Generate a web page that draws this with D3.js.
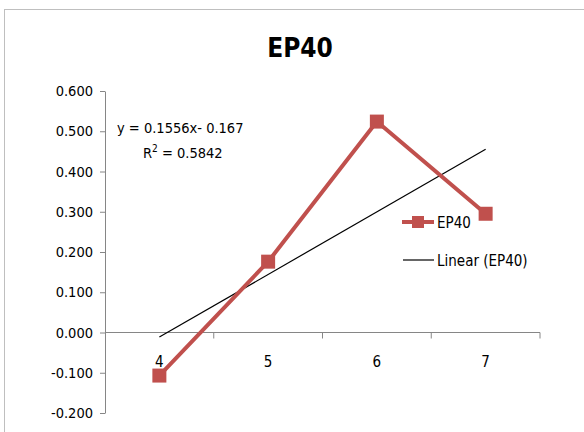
<!DOCTYPE html>
<html>
<head>
<meta charset="utf-8">
<script src="https://cdn.jsdelivr.net/npm/d3@7"></script>
<style>
  html, body { margin: 0; padding: 0; background: #fff; }
  svg { display: block; }
  text { font-family: "DejaVu Sans Condensed", "Liberation Sans", sans-serif; fill: #000; }
</style>
</head>
<body>
<svg id="chart" width="584" height="432"></svg>
<script>
// EP40 readings per category, with the fitted linear trend
const categories = ["4", "5", "6", "7"];
const ep40Values = [-0.107, 0.176, 0.524, 0.295];
const yTickValues = [-0.2, -0.1, 0, 0.1, 0.2, 0.3, 0.4, 0.5, 0.6];
const trendSlope = 0.1556;
const trendIntercept = -0.167;
const trendLabel = "y = 0.1556x- 0.167";
const r2Label = "0.5842";
const seriesName = "EP40";
const trendName = "Linear (EP40)";

const W = 584, H = 432;
const margin = { left: 105, right: 44, top: 91, bottom: 19 };
const red = "#C0504D";
const axisGrey = "#868686";

const svg = d3.select("#chart");

// outer chart frame
svg.append("rect")
  .attr("x", 4.5).attr("y", 9.5)
  .attr("width", 600).attr("height", 460)
  .attr("fill", "none").attr("stroke", "#bfbfbf").attr("stroke-width", 1);

const x = d3.scaleBand().domain(categories).range([margin.left, W - margin.right]);
const y = d3.scaleLinear().domain([-0.2, 0.6]).range([H - margin.bottom, margin.top]);

// title
svg.append("text")
  .attr("x", 300).attr("y", 57)
  .attr("text-anchor", "middle")
  .style("font-size", "26px").style("font-weight", "bold")
  .text(seriesName);

// y axis, plain hyphen for negatives
const fmt = d3.formatLocale({ decimal: ".", thousands: ",", grouping: [3], currency: ["", ""], minus: "-" }).format(".3f");
const yAxis = d3.axisLeft(y).tickValues(yTickValues).tickFormat(fmt).tickSize(5).tickSizeOuter(0);
const gy = svg.append("g").attr("transform", `translate(${margin.left},0)`).call(yAxis);
gy.select(".domain").attr("stroke", axisGrey);
gy.selectAll(".tick line").attr("stroke", axisGrey);
gy.selectAll(".tick text").attr("x", -12).style("font-size", "14.5px").style("font-family", "DejaVu Sans Condensed, sans-serif");

// x axis at zero with ticks on category boundaries
const y0 = y(0);
const gx = svg.append("g").attr("transform", `translate(0,${y0})`);
gx.append("line")
  .attr("x1", x.range()[0]).attr("x2", x.range()[1])
  .attr("stroke", axisGrey);
const bounds = categories.map(c => x(c) + x.bandwidth());
gx.selectAll("line.b").data(bounds).join("line")
  .attr("class", "b")
  .attr("x1", d => d).attr("x2", d => d)
  .attr("y1", 0).attr("y2", 6)
  .attr("stroke", axisGrey);
gx.selectAll("text").data(categories).join("text")
  .attr("x", d => x(d) + x.bandwidth() / 2)
  .attr("y", 34)
  .attr("text-anchor", "middle")
  .style("font-size", "15px")
  .text(d => d);

const cx = d => x(d) + x.bandwidth() / 2;

// linear trend across category positions 1..n
const n = categories.length;
svg.append("line")
  .attr("x1", cx(categories[0])).attr("y1", y(trendSlope * 1 + trendIntercept))
  .attr("x2", cx(categories[n - 1])).attr("y2", y(trendSlope * n + trendIntercept))
  .attr("stroke", "#000").attr("stroke-width", 1.2);

// data series
const line = d3.line().x((d, i) => cx(categories[i])).y(d => y(d));
svg.append("path")
  .datum(ep40Values)
  .attr("d", line)
  .attr("fill", "none").attr("stroke", red).attr("stroke-width", 4)
  .attr("stroke-linejoin", "round");
const ms = 14;
svg.selectAll("rect.m").data(ep40Values).join("rect")
  .attr("class", "m")
  .attr("x", (d, i) => cx(categories[i]) - ms / 2)
  .attr("y", d => y(d) - ms / 2)
  .attr("width", ms).attr("height", ms)
  .attr("fill", red);

// trend equation
const eq = svg.append("g");
eq.append("text").attr("x", 117).attr("y", 133).style("font-size", "14.5px").text(trendLabel);
const r2 = eq.append("text").attr("x", 143).attr("y", 158).style("font-size", "14.5px");
r2.append("tspan").text("R");
r2.append("tspan").attr("dy", -6).style("font-size", "10px").text("2");
r2.append("tspan").attr("dy", 6).text(" = " + r2Label);

// legend
const lg = svg.append("g");
lg.append("line").attr("x1", 402).attr("x2", 434).attr("y1", 222).attr("y2", 222)
  .attr("stroke", red).attr("stroke-width", 4);
lg.append("rect").attr("x", 418 - 6).attr("y", 222 - 6).attr("width", 12).attr("height", 12).attr("fill", red);
lg.append("text").attr("x", 437).attr("y", 228).style("font-size", "15px").text(seriesName);
lg.append("line").attr("x1", 403).attr("x2", 434).attr("y1", 260).attr("y2", 260)
  .attr("stroke", "#000").attr("stroke-width", 1.2);
lg.append("text").attr("x", 437).attr("y", 266).style("font-size", "15px").text(trendName);
</script>
</body>
</html>
